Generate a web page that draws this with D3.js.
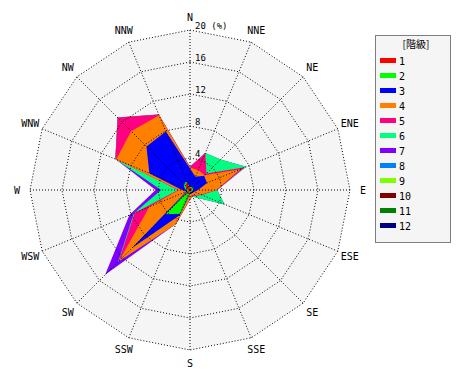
<!DOCTYPE html>
<html><head><meta charset="utf-8">
<script src="https://cdn.jsdelivr.net/npm/d3@7"></script>
<style>body{margin:0;background:#fff}svg{display:block}text{font-family:"DejaVu Sans Mono",monospace}</style>
</head><body>
<svg id="c" width="470" height="380"></svg>
<script>
const directions = ["N","NNE","NE","ENE","E","ESE","SE","SSE","S","SSW","SW","WSW","W","WNW","NW","NNW"];
const classes = ["1","2","3","4","5","6","7","8","9","10","11","12"];
const colors = ["#ff0000","#00ff00","#0000ff","#ff8000","#ff0080","#00ff80","#8000ff","#0080ff","#80ff00","#800000","#008000","#000080"];
const ticks = [4,8,12,16,20];
const tickLabels = ["4","8","12","16","20 (%)"];
// frequency (%) per class, per direction (N..NNW)
const c1  = [0.2,0.3,0.3,0.3,0.2,0.2,0.2,0.1,0.1,0.3,1.5,0.2,0.2,0.5,0.8,1.0];
const c2  = [0.1,0.2,0.2,0.2,0.2,0.1,0.1,0.1,0.2,2.9,2.8,0.1,0.3,0.3,0.2,0.2];
const c3  = [2.4,1.3,2.0,1.8,0.6,0.3,0.2,0.2,0.2,0.2,6.0,0.2,0.5,4.7,6.7,6.7];
const c4  = [0.1,0.9,0.1,4.5,2.3,0.9,0.4,0.3,0.6,1.2,2.2,5.0,0.4,4.5,2.7,2.2];
const c5  = [0.1,2.3,0.3,0.6,0.1,0.1,0.1,0.1,0.1,0.0,0.1,2.0,0.1,0.1,2.4,0.1];
const c6  = [0.0,0.0,2.5,0.2,0.0,3.1,0.4,0.1,0.0,0.0,0.1,0.1,2.1,0.0,0.0,0.0];
const c7  = [0,0,0,0,0,0,0,0,0,0,2.3,0.6,0.7,0,0,0];
const c8  = [0,0,0,0,0,0,0,0,0,0,0,0,0,0,0,0];
const c9  = [0,0,0,0,0,0,0,0,0,0,0,0,0,0,0,0];
const c10 = [0,0,0,0,0,0,0,0,0,0,0,0,0,0,0,0];
const c11 = [0,0,0,0,0,0,0,0,0,0,0,0,0,0,0,0];
const c12 = [0,0,0,0,0,0,0,0,0,0,0,0,0,0,0,0];
const series = [c1,c2,c3,c4,c5,c6,c7,c8,c9,c10,c11,c12];

const svg = d3.select("#c");
const cx = 190, cy = 190;
const r = d3.scaleLinear().domain([0,20]).range([0,160]);
const ang = d3.scaleLinear().domain([0,directions.length]).range([0,2*Math.PI]);
const g = svg.append("g").attr("transform",`translate(${cx},${cy})`);

const ring = v => d3.lineRadial().angle((d,i)=>ang(i)).radius(()=>r(v)).curve(d3.curveLinearClosed)(directions);

// background
g.append("path").attr("d", ring(20)).attr("fill","#f5f5f5");

// cumulative
const cum = [];
series.forEach((s,k)=>{ cum.push(s.map((v,i)=> v + (k>0?cum[k-1][i]:0))); });
const area = d3.lineRadial().angle((d,i)=>ang(i)).radius(d=>r(d)).curve(d3.curveLinearClosed);
for (let k = cum.length-1; k>=0; k--) {
  if (d3.max(series[k]) === 0) continue;
  g.append("path").attr("d", area(cum[k])).attr("fill", colors[k]).attr("stroke","none");
}

// grid
ticks.forEach(t=>{
  g.append("path").attr("d", ring(t)).attr("fill","none").attr("stroke","#000").attr("stroke-width",1).attr("stroke-dasharray","1,2");
});
directions.forEach((d,i)=>{
  const a = ang(i);
  g.append("line").attr("x1",0).attr("y1",0)
    .attr("x2", r(20)*Math.sin(a)).attr("y2", -r(20)*Math.cos(a))
    .attr("stroke","#000").attr("stroke-dasharray","1,2");
});
// tick labels
ticks.forEach((t,i)=>{
  g.append("text").attr("x",5).attr("y",-r(t)-1).attr("font-size","9px").attr("fill","#000").text(tickLabels[i]);
});
// direction labels
directions.forEach((d,i)=>{
  const a = ang(i), rr = r(20)+13;
  g.append("text").attr("x", rr*Math.sin(a)).attr("y", -rr*Math.cos(a)).attr("dy","0.35em")
    .attr("text-anchor","middle").attr("font-size","10px").attr("fill","#000").text(d);
});

// legend
const lg = svg.append("g");
lg.append("rect").attr("x",375.5).attr("y",35.5).attr("width",75).attr("height",207)
  .attr("fill","#f5f5f5").attr("stroke","#000").attr("stroke-dasharray","1,1");
lg.append("text").attr("x",416).attr("y",48).attr("text-anchor","middle").attr("font-size","10px")
  .style("font-family","'Noto Sans CJK JP'").text("[階級]");
classes.forEach((c,i)=>{
  lg.append("rect").attr("x",380).attr("y",58+15*i).attr("width",16).attr("height",5).attr("fill",colors[i]);
  lg.append("text").attr("x",399).attr("y",64.5+15*i).attr("font-size","10px").text(c);
});
</script>
</body></html>
